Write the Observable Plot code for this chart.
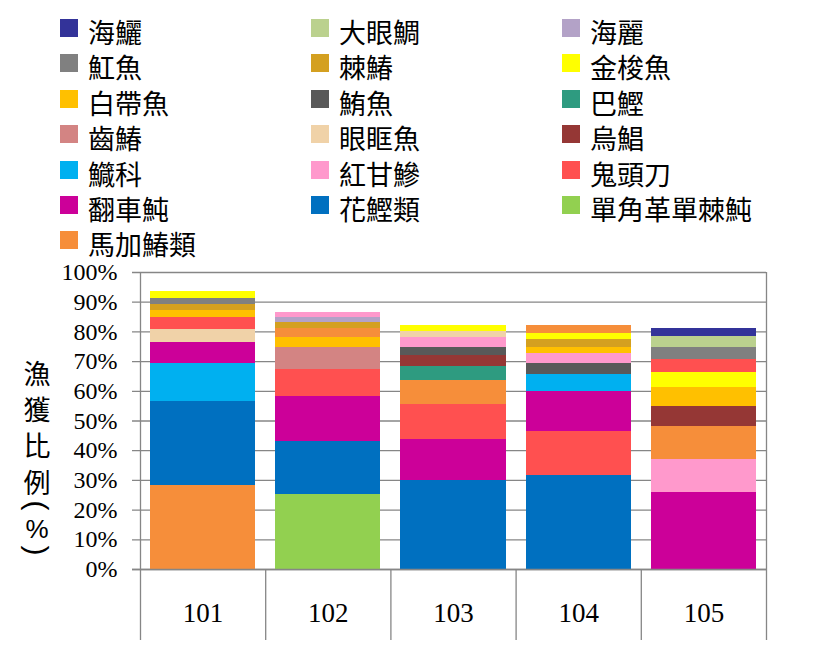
<!DOCTYPE html>
<html>
<head>
<meta charset="utf-8">
<script src="https://cdn.jsdelivr.net/npm/d3@7"></script>
<script src="https://cdn.jsdelivr.net/npm/@observablehq/plot@0.6"></script>
<style>
  body { margin: 0; background: #fff; }
  #wrap { position: relative; width: 826px; height: 671px; overflow: hidden; }
  #wrap svg { position: absolute; left: 0; top: 0; }
  #wrap svg text { font-family: "Liberation Serif", "Times New Roman", serif; }
  .item { position: absolute; height: 27px; white-space: nowrap; }
  .sw { position: absolute; left: 0; top: 0; width: 18px; height: 18px; }
  .lbl { position: absolute; left: 28px; top: 0px; font-family: "Noto Sans CJK TC", sans-serif; font-size: 27px; line-height: 26px; color: #000; }
  .yl { position: absolute; font-family: "Noto Sans CJK TC", sans-serif; font-size: 27px; line-height: 27px; width: 40px; text-align: center; color: #000; }
</style>
</head>
<body>
<div id="wrap"></div>
<script>
// ---- data ----
const years = ["101", "102", "103", "104", "105"];
const species = ["海鱺", "大眼鯛", "海麗", "魟魚", "棘鰆", "金梭魚", "白帶魚", "鮪魚", "巴鰹", "齒鰆", "眼眶魚", "烏鯧", "鱵科", "紅甘鰺", "鬼頭刀", "翻車魨", "花鰹類", "單角革單棘魨", "馬加鰆類"];
const colors = ["#333399", "#BBD18E", "#B3A2C7", "#808080", "#D4A020", "#FFFF00", "#FFC000", "#595959", "#2E9B80", "#D38483", "#F0D2A8", "#953735", "#00B0F0", "#FF99CC", "#FF5050", "#CC0099", "#0070C0", "#92D050", "#F68E3A"];
// stacked bottom -> top, percent
const y101 = [["馬加鰆類", 28.4], ["花鰹類", 28.0], ["鱵科", 12.9], ["翻車魨", 7.0], ["眼眶魚", 4.4], ["鬼頭刀", 4.1], ["白帶魚", 2.3], ["棘鰆", 2.0], ["魟魚", 2.0], ["金梭魚", 2.4]];
const y102 = [["單角革單棘魨", 25.4], ["花鰹類", 17.8], ["翻車魨", 14.9], ["鬼頭刀", 9.1], ["齒鰆", 7.7], ["白帶魚", 3.1], ["馬加鰆類", 3.0], ["棘鰆", 2.0], ["海麗", 1.8], ["紅甘鰺", 1.9]];
const y103 = [["花鰹類", 30.1], ["翻車魨", 13.8], ["鬼頭刀", 11.8], ["馬加鰆類", 8.1], ["巴鰹", 4.4], ["烏鯧", 3.8], ["鮪魚", 2.9], ["紅甘鰺", 3.1], ["眼眶魚", 2.0], ["金梭魚", 2.3]];
const y104 = [["花鰹類", 31.8], ["鬼頭刀", 14.5], ["翻車魨", 13.5], ["鱵科", 5.7], ["鮪魚", 3.7], ["紅甘鰺", 3.4], ["白帶魚", 2.3], ["棘鰆", 2.7], ["金梭魚", 2.0], ["馬加鰆類", 2.7]];
const y105 = [["翻車魨", 26.0], ["紅甘鰺", 11.2], ["馬加鰆類", 10.8], ["烏鯧", 7.0], ["白帶魚", 6.4], ["金梭魚", 4.8], ["鬼頭刀", 4.4], ["魟魚", 4.0], ["大眼鯛", 4.0], ["海鱺", 2.7]];
const yTicks = [0, 10, 20, 30, 40, 50, 60, 70, 80, 90, 100];
const yLabelChars = ["漁", "獲", "比", "例", "(", "%", ")"];

const stacks = [y101, y102, y103, y104, y105];
const rows = years.flatMap((yr, i) => stacks[i].map(([sp, v]) => ({year: yr, species: sp, value: v})));

// ---- layout ----
const W = 826, H = 671, mL = 140, mR = 60, mT = 272, mB = 102;
const step = (W - mL - mR) / years.length;
const grid = "#868686";
const below = 71;

const plot = Plot.plot({
  width: W, height: H,
  marginLeft: mL, marginRight: mR, marginTop: mT, marginBottom: mB,
  x: {domain: years, paddingInner: 0.16, paddingOuter: 0.08, round: false, axis: null},
  y: {domain: [0, 100], axis: null},
  color: {domain: species, range: colors},
  style: {background: "white", overflow: "visible", fontFamily: "Liberation Serif"},
  marks: [
    Plot.ruleY(yTicks, {stroke: grid, strokeWidth: 1.3, insetLeft: -8}),
    Plot.barY(rows, {x: "year", y: "value", fill: "species", shapeRendering: "crispEdges"}),
    Plot.ruleY([0], {stroke: grid, strokeWidth: 1.3, insetLeft: -8}),
    Plot.ruleX([years[0]], {dx: -step / 2, stroke: grid, strokeWidth: 1.3, insetBottom: -below}),
    Plot.ruleX([years[years.length - 1]], {dx: step / 2, stroke: grid, strokeWidth: 1.3, insetBottom: -below}),
    Plot.ruleX(years.slice(1), {dx: -step / 2, y1: 0, y2: 0, stroke: grid, strokeWidth: 1.3, insetBottom: -below}),
    Plot.axisY({ticks: yTicks, tickSize: 0, tickPadding: 23, tickFormat: d => d + "%", fontSize: 24, fontFamily: "Liberation Serif", label: null}),
    Plot.axisX({tickSize: 0, tickPadding: 33, fontSize: 27, fontFamily: "Liberation Serif", label: null})
  ]
});

const wrap = document.getElementById("wrap");
wrap.appendChild(plot);

// ---- legend (HTML, above the plot) ----
const colX = [60, 311, 562];
const rowTop = 19, rowStep = 35.4;
species.forEach((sp, i) => {
  const item = document.createElement("div");
  item.className = "item";
  item.style.left = colX[i % 3] + "px";
  item.style.top = (rowTop + Math.floor(i / 3) * rowStep) + "px";
  const sw = document.createElement("div");
  sw.className = "sw";
  sw.style.background = colors[i];
  const t = document.createElement("div");
  t.className = "lbl";
  t.textContent = sp;
  item.appendChild(sw);
  item.appendChild(t);
  wrap.appendChild(item);
});

// ---- vertical y-axis title ----
const yCenters = [372, 408, 444, 481, 505, 529, 550];
yLabelChars.forEach((c, i) => {
  const s = document.createElement("div");
  s.className = "yl";
  s.textContent = c;
  s.style.left = (37 - 20) + "px";
  s.style.top = (yCenters[i] - 13.5) + "px";
  if (c === "(" || c === ")") {
    s.style.transform = "rotate(90deg)";
    s.style.fontFamily = "Liberation Sans";
    s.style.fontSize = "30px";
  }
  if (c === "%") { s.style.fontFamily = "Liberation Sans"; s.style.fontSize = "26px"; }
  wrap.appendChild(s);
});
</script>
</body>
</html>
